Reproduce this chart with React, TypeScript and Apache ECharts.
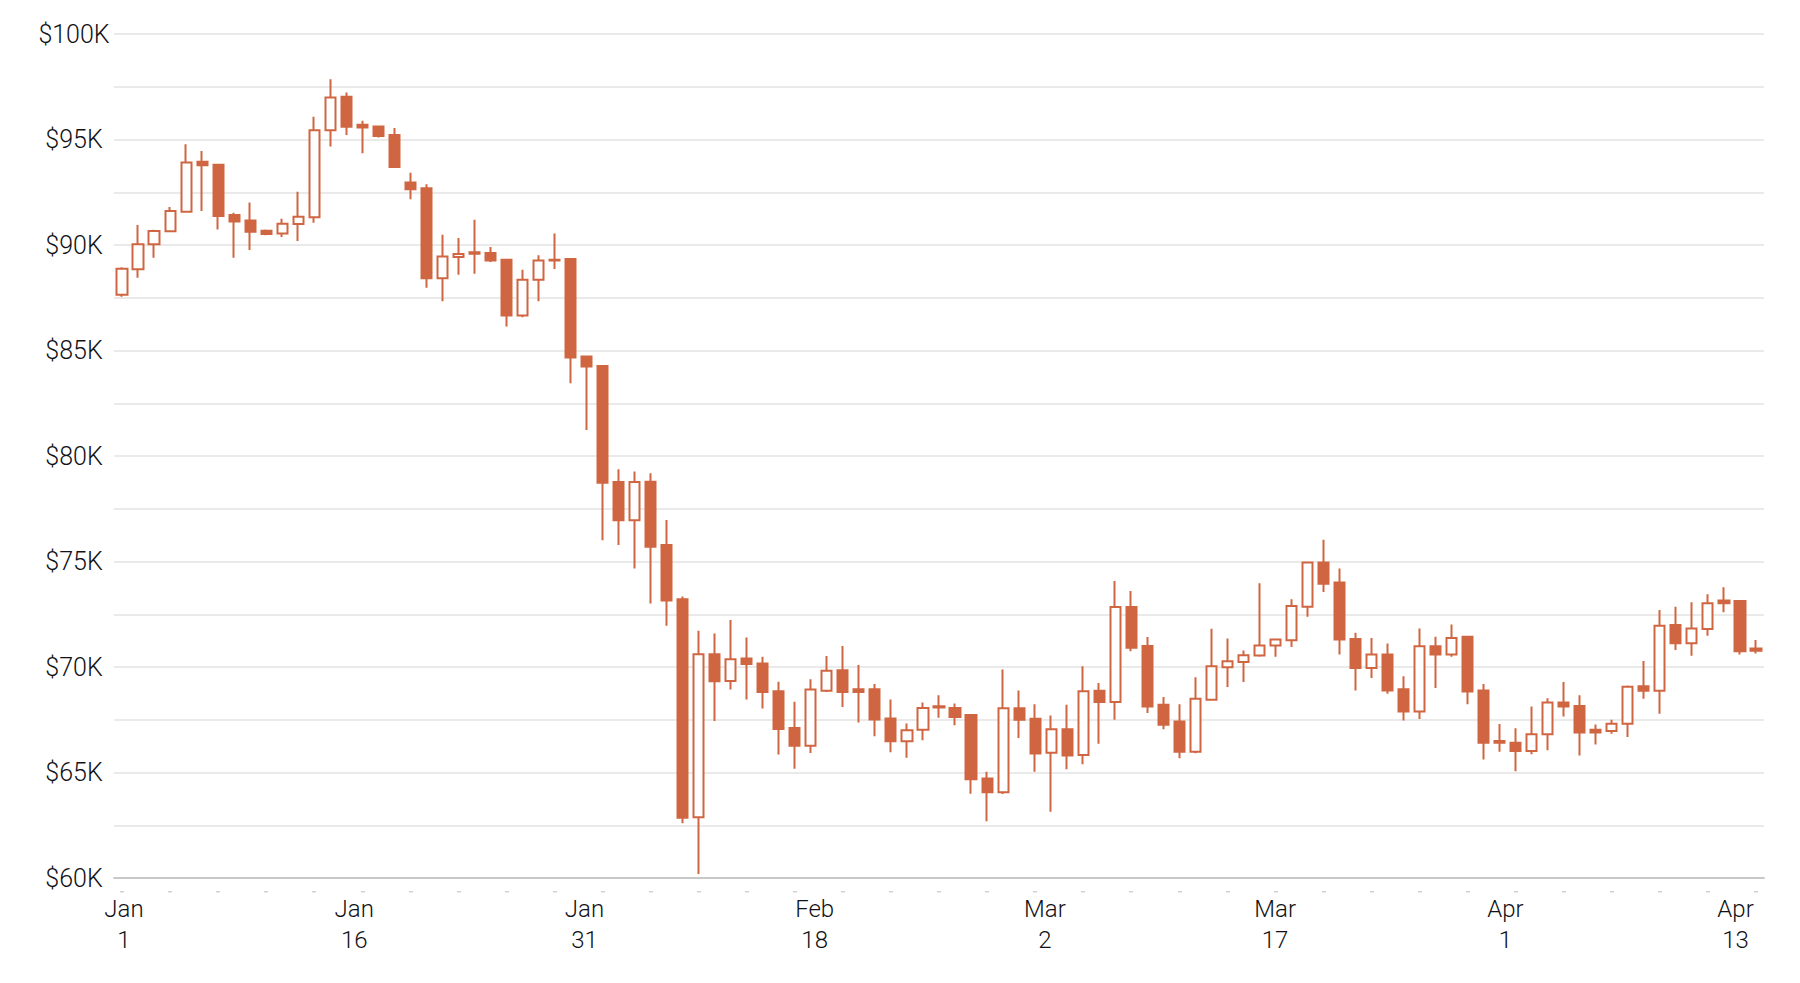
import React, { useEffect, useRef } from "react";
import * as echarts from "echarts";

// Daily BTC candles, Jan 1 – Apr 13 (values in $K)
const opens = [
  87.64, 88.85, 90.03, 90.65, 91.58, 93.94, 93.8, 91.42, 91.16, 90.68,
  90.54, 91.0, 91.31, 95.44, 97.03, 95.7, 95.62, 95.21, 92.96, 92.69,
  88.43, 89.43, 89.58, 89.62, 89.3, 86.66, 88.35, 89.27, 89.34, 84.72,
  84.27, 78.77, 76.96, 78.78, 75.78, 73.21, 62.88, 70.61, 69.34, 70.4,
  70.17, 68.85, 67.11, 66.27, 68.87, 69.85, 68.95, 68.95, 67.56, 66.48,
  67.03, 68.14, 68.06, 67.72, 64.72, 64.06, 68.05, 67.55, 65.94, 67.05,
  65.83, 68.88, 68.34, 72.84, 70.99, 68.21, 67.42, 65.98, 68.45, 69.99,
  70.24, 70.54, 71.02, 71.27, 72.86, 74.95, 74.0, 71.33, 69.95, 70.59,
  68.95, 67.89, 70.98, 70.59, 71.43, 68.89, 66.49, 66.41, 66.02, 66.81,
  68.32, 68.15, 67.03, 66.97, 67.31, 69.09, 68.87, 71.99, 71.12, 71.8,
  73.15, 73.13, 70.88,
];
const closes = [
  88.88, 90.03, 90.66, 91.61, 93.91, 93.78, 91.38, 91.11, 90.63, 90.52,
  91.01, 91.34, 95.44, 96.99, 95.6, 95.57, 95.17, 93.7, 92.64, 88.42,
  89.46, 89.57, 89.66, 89.27, 86.66, 88.35, 89.27, 89.3, 84.67, 84.24,
  78.73, 76.96, 78.77, 75.7, 73.15, 62.85, 70.6, 69.33, 70.37, 70.14,
  68.82, 67.06, 66.27, 68.93, 69.82, 68.82, 68.82, 67.51, 66.48, 67.0,
  68.06, 68.08, 67.63, 64.68, 64.06, 68.05, 67.5, 65.9, 67.05, 65.8,
  68.85, 68.34, 72.84, 70.91, 68.13, 67.26, 65.98, 68.5, 70.04, 70.27,
  70.56, 71.02, 71.3, 72.89, 74.95, 73.95, 71.3, 69.95, 70.59, 68.89,
  67.89, 70.98, 70.59, 71.38, 68.84, 66.41, 66.41, 66.02, 66.81, 68.32,
  68.13, 66.89, 66.9, 67.31, 69.06, 68.87, 71.96, 71.12, 71.83, 73.02,
  73.02, 70.75, 70.77,
];
const lows = [
  87.55, 88.45, 89.4, 90.65, 91.58, 91.61, 90.74, 89.4, 89.76, 90.46,
  90.38, 90.19, 91.06, 94.67, 95.21, 94.35, 95.09, 93.7, 92.17, 87.97,
  87.33, 88.59, 88.64, 89.19, 86.14, 86.58, 87.33, 88.86, 83.45, 81.23,
  76.01, 75.78, 74.67, 73.01, 71.96, 62.6, 60.19, 67.44, 68.93, 68.46,
  68.03, 65.85, 65.18, 65.92, 68.82, 68.11, 67.37, 66.72, 65.96, 65.7,
  66.53, 67.6, 67.24, 63.99, 62.69, 63.98, 66.63, 65.04, 63.14, 65.15,
  65.39, 66.36, 67.5, 70.75, 67.82, 67.05, 65.67, 65.91, 68.45, 69.05,
  69.29, 70.48, 70.48, 70.95, 72.38, 73.56, 70.59, 68.89, 69.48, 68.73,
  67.46, 67.54, 69.0, 70.48, 68.24, 65.62, 65.98, 65.06, 65.86, 66.06,
  67.65, 65.81, 66.33, 66.84, 66.68, 68.5, 67.79, 70.8, 70.53, 71.48,
  72.59, 70.59, 70.64,
];
const highs = [
  88.95, 90.95, 90.72, 91.8, 94.78, 94.46, 93.8, 91.53, 92.01, 90.74,
  91.25, 92.52, 96.08, 97.86, 97.23, 95.89, 95.65, 95.54, 93.43, 92.88,
  90.49, 90.33, 91.2, 89.91, 89.3, 88.83, 89.51, 90.54, 89.34, 84.72,
  84.27, 79.37, 79.26, 79.18, 76.97, 73.34, 71.72, 71.59, 72.23, 71.4,
  70.48, 69.3, 68.35, 69.42, 70.52, 70.99, 70.09, 69.19, 68.46, 67.32,
  68.32, 68.66, 68.27, 67.74, 65.04, 69.88, 68.89, 68.24, 67.7, 68.21,
  70.04, 69.24, 74.08, 73.6, 71.42, 68.58, 68.24, 69.51, 71.81, 71.35,
  70.78, 73.97, 71.33, 73.21, 74.98, 76.03, 74.67, 71.62, 71.38, 71.11,
  69.56, 71.83, 71.43, 72.02, 71.46, 69.19, 67.3, 67.1, 68.13, 68.52,
  69.29, 68.66, 67.28, 67.5, 69.12, 70.29, 72.7, 72.86, 73.07, 73.45,
  73.78, 73.18, 71.28,
];

const monthNames = ["Jan", "Feb", "Mar", "Apr"];
const monthDays = [31, 28, 31, 30];
const categories: string[] = [];
for (let m = 0; m < monthNames.length && categories.length < opens.length; m++) {
  for (let d = 1; d <= monthDays[m] && categories.length < opens.length; d++) {
    categories.push(`${monthNames[m]} ${d}`);
  }
}

const xTickLabels = ["Jan\n1", "Jan\n16", "Jan\n31", "Feb\n18", "Mar\n2", "Mar\n17", "Apr\n1", "Apr\n13"];
const yMin = 60;
const yMax = 100;
const yStep = 2.5;
const yLabelStep = 5;

const ORANGE = "#CF6641";
const TEXT = "#111116";
const FONT = "Roboto, 'Liberation Sans', Arial, sans-serif";

export default function App() {
  const ref = useRef<HTMLDivElement>(null);
  useEffect(() => {
    const chart = echarts.init(ref.current!, null, { renderer: "svg" });
    const data = opens.map((o, i) => [o, closes[i], lows[i], highs[i]]);

    const GRID_LEFT = 114;
    const GRID_RIGHT = 36;
    const n = categories.length;
    const band = (1800 - GRID_LEFT - GRID_RIGHT) / n;
    // label strip: first label sits on the first candle, evenly spaced labels
    const labelSpanIdx = 100.6;
    const lblLeft = GRID_LEFT + 0.5 * band + 2;
    const lblWidth = labelSpanIdx * band;

    chart.setOption({
      animation: false,
      backgroundColor: "#ffffff",
      grid: [
        { left: GRID_LEFT, right: GRID_RIGHT, top: 34, bottom: 105, containLabel: false },
        { left: lblLeft, width: lblWidth, top: 34, bottom: 105, containLabel: false },
      ],
      xAxis: [
        {
          type: "category",
          gridIndex: 0,
          data: categories,
          boundaryGap: true,
          position: "bottom",
          axisLine: { show: true, lineStyle: { color: "#c8c8c8", width: 2 } },
          axisTick: { show: false },
          axisLabel: { show: false },
          splitLine: { show: false },
        },
        {
          type: "category",
          gridIndex: 0,
          data: categories,
          boundaryGap: true,
          position: "bottom",
          offset: 13,
          axisLine: { show: false },
          axisTick: {
            show: true,
            alignWithLabel: true,
            interval: 2,
            length: 1.5,
            lineStyle: { color: "#d2d2d2", width: 4 },
          },
          axisLabel: { show: false, interval: 2 },
          splitLine: { show: false },
        },
        {
          type: "value",
          gridIndex: 1,
          min: 0,
          max: xTickLabels.length - 1,
          interval: 1,
          position: "bottom",
          axisLine: { show: false },
          axisTick: { show: false },
          splitLine: { show: false },
          axisLabel: {
            show: true,
            margin: 15,
            fontSize: 24,
            fontWeight: 300,
            lineHeight: 31,
            color: TEXT,
            fontFamily: FONT,
            formatter: (v: number) => {
              const k = Math.round(v);
              if (Math.abs(v - k) > 1e-6 || k < 0 || k >= xTickLabels.length) return "";
              return xTickLabels[k];
            },
          },
        },
      ],
      yAxis: [
        {
          type: "value",
          gridIndex: 0,
          min: yMin,
          max: yMax,
          interval: yStep,
          axisLine: { show: false },
          axisTick: { show: false },
          splitLine: { show: true, lineStyle: { color: "#e3e3e3", width: 1.5 } },
          axisLabel: {
            align: "center",
            margin: 40,
            fontSize: 25,
            fontWeight: 300,
            color: TEXT,
            fontFamily: FONT,
            formatter: (v: number) => (Math.abs(v % yLabelStep) < 1e-6 ? `$${v}K` : ""),
          },
        },
        {
          type: "value",
          gridIndex: 1,
          min: 0,
          max: 1,
          show: false,
        },
      ],
      series: [
        {
          type: "candlestick",
          xAxisIndex: 0,
          yAxisIndex: 0,
          data,
          barWidth: 10.6,
          itemStyle: {
            color: "#ffffff",
            color0: ORANGE,
            borderColor: ORANGE,
            borderColor0: ORANGE,
            borderColorDoji: ORANGE,
            borderWidth: 2,
          },
        },
      ],
    });
    return () => chart.dispose();
  }, []);
  return (
    <div
      ref={ref}
      style={{ position: "fixed", left: 0, top: 0, width: 1800, height: 983, background: "#fff" }}
    />
  );
}
